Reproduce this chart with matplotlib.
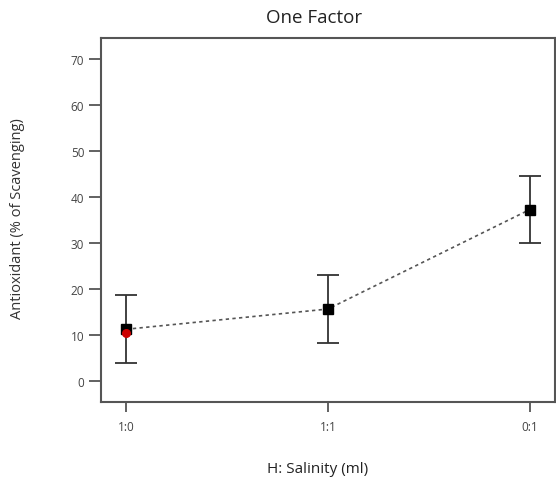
import matplotlib.pyplot as plt
import numpy as np

# data
categories = ['1:0', '1:1', '0:1']
means = [11.2, 15.6, 37.2]
err_low = [3.9, 8.2, 29.9]
err_high = [18.6, 23.0, 44.5]
actual_x = [0]
actual_y = [10.3]
yticks = [0, 10, 20, 30, 40, 50, 60, 70]

plt.rcParams['font.family'] = ['Open Sans', 'DejaVu Sans']

fig = plt.figure(figsize=(5.56, 4.81), dpi=100)
ax = fig.add_axes([0.1817, 0.1622, 0.8163, 0.7568])

x = np.arange(len(categories))
means = np.array(means)
lo = means - np.array(err_low)
hi = np.array(err_high) - means

ax.plot(x, means, linestyle=(0, (2, 2)), color='#555555', lw=1.2, zorder=2)
ax.errorbar(x, means, yerr=[lo, hi], fmt='none', ecolor='#333333',
            elinewidth=1.3, capsize=8, capthick=1.3, zorder=3)
ax.plot(x, means, 's', color='black', ms=6.5, zorder=4)
ax.plot(actual_x, actual_y, 'o', color='#cc0000', ms=5.5, zorder=5)

ax.set_xlim(-0.125, 2.125)
ax.set_ylim(-4.6, 74.5)
ax.set_xticks(x)
ax.set_xticklabels(categories)
ax.set_yticks(yticks)

for s in ax.spines.values():
    s.set_color('#555555')
    s.set_linewidth(1.5)

ax.tick_params(axis='y', direction='out', length=9, width=1.3, color='#555555',
               labelsize=8.5, labelcolor='#444444', pad=3)
ax.tick_params(axis='x', direction='out', length=7, width=1.3, color='#555555',
               labelsize=8.5, labelcolor='#444444', pad=6)

fig.text(0.031, 0.545, 'Antioxidant (% of Scavenging)', rotation=90, ha='center', va='center',
         fontsize=10.5, color='#333333')
fig.text(0.572, 0.023, 'H: Salinity (ml)', ha='center', va='center', fontsize=11, color='#222222')
fig.text(0.565, 0.962, 'One Factor', ha='center', va='center', fontsize=13.5, color='#222222')

fig.savefig('out.png', dpi=100)
